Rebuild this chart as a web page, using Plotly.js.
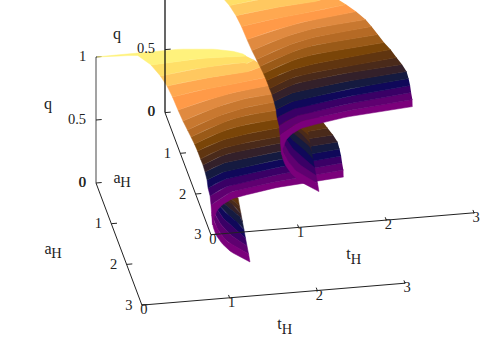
<!DOCTYPE html>
<html><head><meta charset="utf-8">
<script src="https://cdn.plot.ly/plotly-3.0.1.min.js"></script>
<style>html,body{margin:0;padding:0;background:#fff}#chart{width:500px;height:350px}</style>
</head><body><div id="chart"></div>
<script>
// Height of each contour level of q
const levels = [0,0.0556,0.1111,0.1667,0.2222,0.2778,0.3333,0.3889,0.4444,0.5,0.5556,0.6111,0.6667,0.7222,0.7778,0.8333,0.8889,0.9444,1];
// Main sheet: contour of each level, as t_H and a_H values
const contourT = [
 [2.762,2.371,1.959,1.657,1.451,1.271,1.174,1.113],
 [2.760,2.153,1.537,1.352,1.151],
 [2.746,2.145,1.535,1.350,1.149],
 [2.735,2.140,1.537,1.342,1.131],
 [2.718,2.133,1.539,1.339,1.124],
 [2.696,2.125,1.545,1.333,1.106],
 [2.646,2.103,1.551,1.326,1.083],
 [2.585,2.071,1.551,1.307,1.052],
 [2.523,2.042,1.558,1.300,1.023],
 [2.451,2.011,1.568,1.282,0.989],
 [2.387,1.984,1.576,1.270,0.951],
 [2.321,1.951,1.581,1.250,0.912],
 [2.255,1.921,1.589,1.235,0.870],
 [2.154,1.876,1.597,1.219,0.832],
 [2.044,1.822,1.601,1.200,0.796],
 [1.897,1.752,1.614,1.187,0.752],
 [1.793,1.702,1.626,1.162,0.692],
 [1.692,1.533,1.173,0.882,0.604],
 [1.663,1.610,1.434,1.183,0.792,0.424,0.011,0.415,0.487,0.575]
];
const contourA = [
 [0.347,0.400,0.473,0.567,0.640,0.818,1.021,1.231],
 [0.347,0.453,0.607,0.715,0.919],
 [0.344,0.458,0.618,0.696,0.869],
 [0.342,0.451,0.607,0.676,0.841],
 [0.339,0.444,0.595,0.657,0.816],
 [0.335,0.424,0.559,0.625,0.788],
 [0.326,0.401,0.523,0.605,0.784],
 [0.315,0.408,0.523,0.615,0.803],
 [0.279,0.372,0.487,0.589,0.773],
 [0.267,0.336,0.428,0.562,0.767],
 [0.230,0.294,0.380,0.535,0.760],
 [0.195,0.264,0.356,0.519,0.753],
 [0.183,0.234,0.309,0.467,0.696],
 [0.140,0.201,0.261,0.403,0.591],
 [0.120,0.179,0.237,0.313,0.437],
 [0.045,0.130,0.166,0.225,0.332],
 [0.051,0.121,0.094,0.135,0.247],
 [0.106,0.102,0.075,0.108,0.133],
 [0.273,0.190,0.085,0.015,-0.030,-0.010,0.002,0.037,0.087,0.300]
];
// Folded-under part of the sheet near the tip
const foldT = [
 [1.162,1.115,1.120,1.199,1.374],
 [1.121,1.122,1.185,1.363],
 [1.123,1.146,1.225,1.350],
 [1.133,1.172,1.258,1.337],
 [1.145,1.204,1.288,1.325],
 [1.169,1.235,1.306,1.312],
 [1.193,1.256,1.300],
 [1.216,1.261,1.287],
 [1.229,1.276]
];
const foldA = [
 [0.921,1.256,1.552,1.885,2.187],
 [1.159,1.479,1.833,2.160],
 [1.209,1.532,1.865,2.133],
 [1.284,1.585,1.871,2.106],
 [1.409,1.664,1.901,2.080],
 [1.535,1.744,1.929,2.053],
 [1.662,1.821,2.026],
 [1.789,1.921,1.999],
 [1.841,1.972]
];
const bandColors = ['#7b007b','#5f0070','#3a0066','#10085a','#151a40','#33202a','#4a2a1a','#603510','#7a4508','#9a5a18','#b56a25','#c87830','#e08a40','#ff9a48','#ffa850','#ffc860','#ffdf68','#fff27c'];
const tTicks = [0,1,2,3];
const aTicks = [0,1,2,3];
const qTicksLower = [0,0.5,1];
const qTicksUpper = [0,0.5];
const tickText = v => String(v);
const FONT = 'Liberation Serif';
const INK = '#222';

// Gnuplot-style view: screen vector of one unit along each axis
const unitT = [87.7,-7.3], unitA = [15.3,40.7], unitQ = [0,-126];
const originLower = [96,183], originUpper = [165,112.6];
const project = (o,t,a,q) => [o[0]+t*unitT[0]+a*unitA[0]+q*unitQ[0], o[1]+t*unitT[1]+a*unitA[1]+q*unitQ[1]];

// Catmull-Rom through a contour's points, for drawing it as a smooth line
function smooth(pts){
  const out=[];
  for(let i=0;i<pts.length-1;i++){
    const p0=pts[Math.max(i-1,0)],p1=pts[i],p2=pts[i+1],p3=pts[Math.min(i+2,pts.length-1)];
    for(let s=0;s<6;s++){
      const u=s/6,u2=u*u,u3=u2*u;
      out.push([0,1].map(d=>0.5*(2*p1[d]+(p2[d]-p0[d])*u+(2*p0[d]-5*p1[d]+4*p2[d]-p3[d])*u2+(3*p1[d]-p0[d]-3*p2[d]+p3[d])*u3)));
    }
  }
  out.push(pts[pts.length-1]);
  return out;
}

const traces = [];
function seg(o,p1,p2,color,width){
  const a = project(o,...p1), b = project(o,...p2);
  traces.push({type:'scatter',mode:'lines',x:[a[0],b[0]],y:[a[1],b[1]],line:{color,width},hoverinfo:'skip',showlegend:false});
}
function text(o,p,dx,dy,str,size){
  const a = project(o,...p);
  traces.push({type:'scatter',mode:'text',x:[a[0]+dx],y:[a[1]+dy],text:[str],textposition:'middle center',textfont:{family:FONT,size,color:INK},hoverinfo:'skip',showlegend:false,cliponaxis:false});
}
function band(o,t1,a1,q1,t2,a2,q2,color){
  const lo=smooth(t1.map((t,i)=>project(o,t,a1[i],q1)));
  const hi=smooth(t2.map((t,i)=>project(o,t,a2[i],q2))).reverse();
  const pts=lo.concat(hi);
  traces.push({type:'scatter',mode:'lines',x:pts.map(p=>p[0]),y:pts.map(p=>p[1]),fill:'toself',fillcolor:color,line:{color,width:0.5},hoverinfo:'skip',showlegend:false});
}
function surface(o){
  for(let k=foldT.length-2;k>=0;k--) band(o,foldT[k],foldA[k],levels[k],foldT[k+1],foldA[k+1],levels[k+1],bandColors[k]);
  for(let k=0;k<contourT.length-1;k++) band(o,contourT[k],contourA[k],levels[k],contourT[k+1],contourA[k+1],levels[k+1],bandColors[k]);
}
function axes(o,qTicks,zColor){
  seg(o,[0,0,0],[0,0,1],zColor,1.2);
  seg(o,[0,0,0],[0,3,0],'#222',1);
  seg(o,[0,3,0],[3,3,0],'#222',1);
  qTicks.forEach(v=>{seg(o,[0,0,v],[0.065,0,v],'#222',1);
    text(o,[0,0,v],v===0.5?-19:-13.3,0,tickText(v),14.5);});
  aTicks.forEach(v=>{if(v>0)seg(o,[0,v,0],[0.065,v,0],'#222',1);
    text(o,[0,v,0],v>0?-13:-13.9,v>0?1:0,tickText(v),14.5);});
  tTicks.forEach(v=>{if(v>0)seg(o,[v,3,0],[v,2.93,0],'#222',1);
    text(o,[v,3,0],2,5.5,tickText(v),14.5);});
  text(o,[0,0,0],-48,-78,'q',16);
  text(o,[0,0,0],-48,66.5,'a',16);
  text(o,[0,0,0],-39.5,71,'H',14.5);
  text(o,[0,0,0],183.5,142,'t',16);
  text(o,[0,0,0],191,147.5,'H',14.5);
}
axes(originLower,qTicksLower,'#666');
surface(originLower);
axes(originUpper,qTicksUpper,'#000');
surface(originUpper);

Plotly.newPlot('chart',traces,{
  width:500,height:350,margin:{l:0,r:0,t:0,b:0},
  paper_bgcolor:'#fff',plot_bgcolor:'#fff',showlegend:false,
  xaxis:{range:[0,500],visible:false,fixedrange:true},
  yaxis:{range:[350,0],visible:false,fixedrange:true}
},{displayModeBar:false,staticPlot:true});
</script></body></html>
